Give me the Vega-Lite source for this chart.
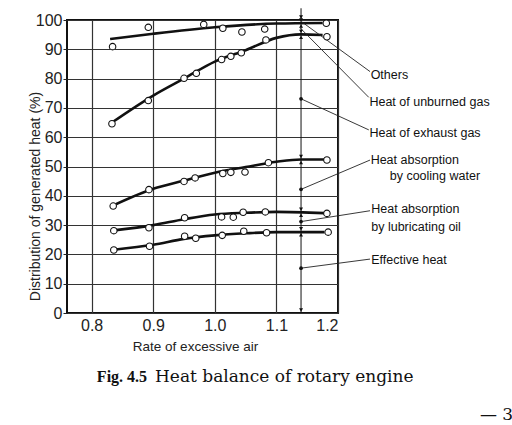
{
  "$schema": "https://vega.github.io/schema/vega-lite/v6.json",
  "width": 271,
  "height": 293,
  "autosize": {"type": "none"},
  "padding": {"left": 67, "top": 20, "right": 174, "bottom": 112},
  "background": "white",
  "datasets": {
    "curves": [
      {"series": "unburned", "x": 0.83, "y": 93.5},
      {"series": "unburned", "x": 0.9, "y": 95.3},
      {"series": "unburned", "x": 1.0, "y": 97.5},
      {"series": "unburned", "x": 1.1, "y": 98.8},
      {"series": "unburned", "x": 1.175, "y": 99.0},
      {"series": "exhaust", "x": 0.833, "y": 65.0},
      {"series": "exhaust", "x": 0.9, "y": 74.2},
      {"series": "exhaust", "x": 0.95, "y": 80.0},
      {"series": "exhaust", "x": 1.0, "y": 85.8},
      {"series": "exhaust", "x": 1.05, "y": 89.7},
      {"series": "exhaust", "x": 1.1, "y": 93.9},
      {"series": "exhaust", "x": 1.14, "y": 95.1},
      {"series": "exhaust", "x": 1.175, "y": 94.9},
      {"series": "cooling", "x": 0.835, "y": 36.7},
      {"series": "cooling", "x": 0.9, "y": 42.4},
      {"series": "cooling", "x": 0.95, "y": 45.2},
      {"series": "cooling", "x": 1.0, "y": 47.9},
      {"series": "cooling", "x": 1.05, "y": 49.8},
      {"series": "cooling", "x": 1.1, "y": 51.6},
      {"series": "cooling", "x": 1.14, "y": 52.4},
      {"series": "cooling", "x": 1.178, "y": 52.4},
      {"series": "oil", "x": 0.836, "y": 28.2},
      {"series": "oil", "x": 0.9, "y": 30.0},
      {"series": "oil", "x": 0.95, "y": 32.0},
      {"series": "oil", "x": 1.0, "y": 33.6},
      {"series": "oil", "x": 1.05, "y": 34.2},
      {"series": "oil", "x": 1.1, "y": 34.5},
      {"series": "oil", "x": 1.178, "y": 34.1},
      {"series": "effective", "x": 0.836, "y": 21.6},
      {"series": "effective", "x": 0.9, "y": 23.3},
      {"series": "effective", "x": 0.95, "y": 25.3},
      {"series": "effective", "x": 1.0, "y": 26.5},
      {"series": "effective", "x": 1.05, "y": 27.2},
      {"series": "effective", "x": 1.1, "y": 27.6},
      {"series": "effective", "x": 1.178, "y": 27.6}
    ],
    "points": [
      {"series": "unburned", "x": 0.834, "y": 90.9},
      {"series": "unburned", "x": 0.892, "y": 97.5},
      {"series": "unburned", "x": 0.982, "y": 98.5},
      {"series": "unburned", "x": 1.013, "y": 97.2},
      {"series": "unburned", "x": 1.044, "y": 95.9},
      {"series": "unburned", "x": 1.081, "y": 96.9},
      {"series": "unburned", "x": 1.181, "y": 98.9},
      {"series": "exhaust", "x": 0.833, "y": 64.6},
      {"series": "exhaust", "x": 0.892, "y": 72.5},
      {"series": "exhaust", "x": 0.95, "y": 80.1},
      {"series": "exhaust", "x": 0.97, "y": 81.8},
      {"series": "exhaust", "x": 1.011, "y": 86.5},
      {"series": "exhaust", "x": 1.026, "y": 87.6},
      {"series": "exhaust", "x": 1.043, "y": 88.8},
      {"series": "exhaust", "x": 1.083, "y": 93.2},
      {"series": "exhaust", "x": 1.182, "y": 94.3},
      {"series": "cooling", "x": 0.835, "y": 36.5},
      {"series": "cooling", "x": 0.893, "y": 42.1},
      {"series": "cooling", "x": 0.95, "y": 44.9},
      {"series": "cooling", "x": 0.968, "y": 46.1},
      {"series": "cooling", "x": 1.013, "y": 47.6},
      {"series": "cooling", "x": 1.026, "y": 48.0},
      {"series": "cooling", "x": 1.049, "y": 48.1},
      {"series": "cooling", "x": 1.087, "y": 51.3},
      {"series": "cooling", "x": 1.182, "y": 52.2},
      {"series": "oil", "x": 0.836, "y": 28.1},
      {"series": "oil", "x": 0.893, "y": 29.1},
      {"series": "oil", "x": 0.951, "y": 32.5},
      {"series": "oil", "x": 1.011, "y": 32.8},
      {"series": "oil", "x": 1.03, "y": 32.7},
      {"series": "oil", "x": 1.046, "y": 34.4},
      {"series": "oil", "x": 1.082, "y": 34.5},
      {"series": "oil", "x": 1.182, "y": 34.0},
      {"series": "effective", "x": 0.836, "y": 21.5},
      {"series": "effective", "x": 0.894, "y": 22.8},
      {"series": "effective", "x": 0.951, "y": 26.2},
      {"series": "effective", "x": 0.969, "y": 25.5},
      {"series": "effective", "x": 1.012, "y": 26.5},
      {"series": "effective", "x": 1.047, "y": 27.9},
      {"series": "effective", "x": 1.084, "y": 27.4},
      {"series": "effective", "x": 1.184, "y": 27.6}
    ],
    "dimension": [{"x": 1.14, "y": 0, "y2": 104}],
    "arrows": [
      {"x": 1.14, "y": 0, "dir": "down"},
      {"x": 1.14, "y": 27.7, "dir": "up"},
      {"x": 1.14, "y": 27.7, "dir": "down"},
      {"x": 1.14, "y": 34.4, "dir": "up"},
      {"x": 1.14, "y": 34.4, "dir": "down"},
      {"x": 1.14, "y": 52.4, "dir": "up"},
      {"x": 1.14, "y": 52.4, "dir": "down"},
      {"x": 1.14, "y": 95.1, "dir": "up"},
      {"x": 1.14, "y": 95.1, "dir": "down"},
      {"x": 1.14, "y": 99, "dir": "up"},
      {"x": 1.14, "y": 99, "dir": "down"},
      {"x": 1.14, "y": 100, "dir": "down"}
    ],
    "dots": [
      {"x": 1.14, "y": 73.1},
      {"x": 1.14, "y": 42.2},
      {"x": 1.14, "y": 31.2},
      {"x": 1.14, "y": 15.3}
    ],
    "leaders": [
      {"x": 1.141, "y": 99.4, "x2": 1.252, "y2": 82.4},
      {"x": 1.139, "y": 97.2, "x2": 1.25, "y2": 73.6},
      {"x": 1.14, "y": 73.1, "x2": 1.25, "y2": 62.5},
      {"x": 1.14, "y": 42.2, "x2": 1.252, "y2": 52.2},
      {"x": 1.14, "y": 31.2, "x2": 1.252, "y2": 34.9},
      {"x": 1.14, "y": 15.3, "x2": 1.252, "y2": 18.4}
    ],
    "labels": [
      {"label": "Others", "x": 1.253, "y": 81.2},
      {"label": "Heat of unburned gas", "x": 1.251, "y": 72.1},
      {"label": "Heat of exhaust gas", "x": 1.251, "y": 61.4},
      {"label": "Heat absorption", "x": 1.253, "y": 52.2},
      {"label": "by cooling water", "x": 1.284, "y": 46.9},
      {"label": "Heat absorption", "x": 1.254, "y": 35.5},
      {"label": "by lubricating oil", "x": 1.254, "y": 29.5},
      {"label": "Effective heat", "x": 1.254, "y": 18.1}
    ],
    "caption": [
      {"part": "number", "text": "Fig. 4.5", "x": 0.8085, "y": -21.7},
      {"part": "title", "text": "Heat balance of rotary engine", "x": 0.9029, "y": -21.7},
      {"part": "page", "text": "— 3", "x": 1.4305, "y": -34.8}
    ]
  },
  "encoding": {
    "x": {
      "field": "x",
      "type": "quantitative",
      "scale": {"domain": [0.76, 1.2], "nice": false, "zero": false},
      "axis": {
        "values": [0.8, 0.9, 1.0, 1.1, 1.2],
        "format": ".1f",
        "title": "Rate of excessive air",
        "grid": true,
        "ticks": false,
        "domain": false,
        "labelPadding": 4,
        "labelFontSize": 16,
        "titleFontSize": 13.5,
        "titlePadding": 6,
        "titleX": 128
      }
    },
    "y": {
      "field": "y",
      "type": "quantitative",
      "scale": {"domain": [0, 100], "nice": false, "zero": false},
      "axis": {
        "values": [0, 10, 20, 30, 40, 50, 60, 70, 80, 90, 100],
        "title": "Distribution of generated heat (%)",
        "grid": true,
        "tickSize": 4,
        "labelPadding": 1,
        "domain": false,
        "labelFontSize": 16,
        "titleFontSize": 14,
        "titleAngle": -90,
        "titleX": -32,
        "titleY": 176,
        "titleAlign": "center",
        "titleBaseline": "middle"
      }
    }
  },
  "layer": [
    {
      "data": {"name": "curves"},
      "mark": {"type": "line", "interpolate": "monotone", "color": "#111", "strokeWidth": 2.6, "clip": false},
      "encoding": {"detail": {"field": "series"}}
    },
    {
      "data": {"name": "dimension"},
      "mark": {"type": "rule", "color": "#111", "strokeWidth": 1, "clip": false},
      "encoding": {"y2": {"field": "y2"}}
    },
    {
      "data": {"name": "leaders"},
      "mark": {"type": "rule", "color": "#222", "strokeWidth": 0.9, "clip": false},
      "encoding": {"x2": {"field": "x2"}, "y2": {"field": "y2"}}
    },
    {
      "data": {"name": "points"},
      "mark": {"type": "point", "shape": "circle", "fill": "white", "stroke": "#111", "strokeWidth": 1.1, "size": 42, "opacity": 1, "clip": false},
      "encoding": {"detail": {"field": "series"}}
    },
    {
      "data": {"name": "arrows"},
      "transform": [{"filter": "datum.dir == 'down'"}],
      "mark": {"type": "point", "shape": "triangle-down", "filled": true, "color": "#111", "size": 16, "opacity": 1, "yOffset": -3, "clip": false}
    },
    {
      "data": {"name": "arrows"},
      "transform": [{"filter": "datum.dir == 'up'"}],
      "mark": {"type": "point", "shape": "triangle-up", "filled": true, "color": "#111", "size": 16, "opacity": 1, "yOffset": 3, "clip": false}
    },
    {
      "data": {"name": "dots"},
      "mark": {"type": "circle", "color": "#111", "size": 14, "opacity": 1, "clip": false}
    },
    {
      "data": {"name": "labels"},
      "mark": {"type": "text", "align": "left", "baseline": "middle", "fontSize": 12.5, "font": "Liberation Sans, sans-serif", "color": "#111", "clip": false},
      "encoding": {"text": {"field": "label"}}
    },
    {
      "data": {"name": "caption"},
      "transform": [{"filter": "datum.part == 'number'"}],
      "mark": {"type": "text", "align": "left", "baseline": "middle", "fontSize": 16, "fontWeight": "bold", "font": "Liberation Serif, serif", "color": "#111", "clip": false},
      "encoding": {"text": {"field": "text"}}
    },
    {
      "data": {"name": "caption"},
      "transform": [{"filter": "datum.part != 'number'"}],
      "mark": {"type": "text", "align": "left", "baseline": "middle", "fontSize": 17, "font": "DejaVu Serif, Liberation Serif, serif", "color": "#111", "clip": false},
      "encoding": {"text": {"field": "text"}}
    }
  ],
  "config": {
    "view": {"stroke": "#111", "strokeWidth": 2},
    "axis": {
      "gridColor": "#333",
      "gridWidth": 1.2,
      "gridOpacity": 1,
      "tickColor": "#222",
      "labelColor": "#222",
      "titleColor": "#222",
      "labelFont": "Liberation Sans, sans-serif",
      "titleFont": "Liberation Sans, sans-serif",
      "titleFontWeight": "normal"
    }
  }
}
